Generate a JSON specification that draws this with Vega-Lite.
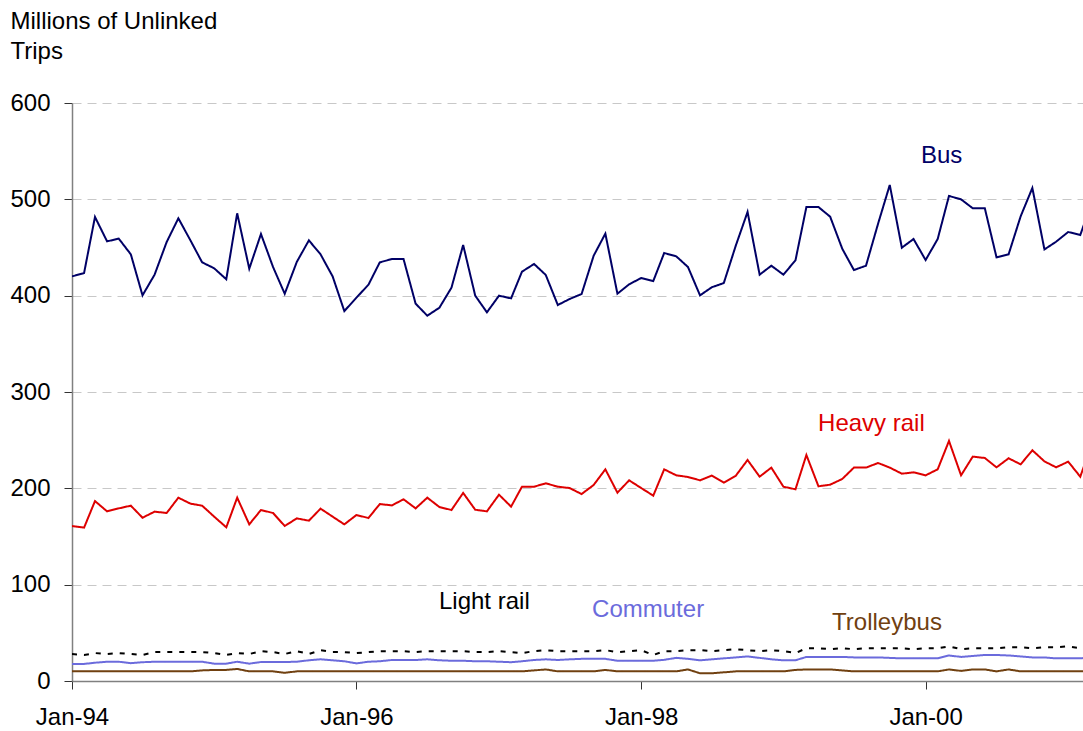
{
  "$schema": "https://vega.github.io/schema/vega-lite/v6.json",
  "width": 1011,
  "height": 578,
  "autosize": {"type": "none"},
  "padding": {"left": 72, "top": 103, "right": 0, "bottom": 50},
  "background": "white",
  "config": {"font": "Liberation Sans", "view": {"stroke": null}},
  "data": {"values": [
    {"date":"1994-01-01","Bus":420,"Heavy rail":160.9,"Light rail":28,"Commuter":17.7,"Trolleybus":10},
    {"date":"1994-02-01","Bus":423.5,"Heavy rail":159.2,"Light rail":27,"Commuter":17.7,"Trolleybus":10},
    {"date":"1994-03-01","Bus":481.7,"Heavy rail":186.8,"Light rail":29,"Commuter":19,"Trolleybus":10},
    {"date":"1994-04-01","Bus":456.4,"Heavy rail":176.1,"Light rail":28,"Commuter":20,"Trolleybus":10},
    {"date":"1994-05-01","Bus":459.2,"Heavy rail":179.2,"Light rail":29,"Commuter":20,"Trolleybus":10},
    {"date":"1994-06-01","Bus":442.9,"Heavy rail":182,"Light rail":28,"Commuter":18.5,"Trolleybus":10},
    {"date":"1994-07-01","Bus":400.3,"Heavy rail":169.5,"Light rail":27,"Commuter":19.5,"Trolleybus":10},
    {"date":"1994-08-01","Bus":421.8,"Heavy rail":175.8,"Light rail":30,"Commuter":20,"Trolleybus":10},
    {"date":"1994-09-01","Bus":455.7,"Heavy rail":174.4,"Light rail":30,"Commuter":20,"Trolleybus":10},
    {"date":"1994-10-01","Bus":480.3,"Heavy rail":190.3,"Light rail":30,"Commuter":20,"Trolleybus":10},
    {"date":"1994-11-01","Bus":457.4,"Heavy rail":184.1,"Light rail":30,"Commuter":20,"Trolleybus":10},
    {"date":"1994-12-01","Bus":434.6,"Heavy rail":182,"Light rail":30,"Commuter":20,"Trolleybus":11},
    {"date":"1995-01-01","Bus":428.4,"Heavy rail":170.6,"Light rail":29,"Commuter":18,"Trolleybus":11.5},
    {"date":"1995-02-01","Bus":417,"Heavy rail":159.5,"Light rail":27,"Commuter":18,"Trolleybus":11.5},
    {"date":"1995-03-01","Bus":485.5,"Heavy rail":190.3,"Light rail":29,"Commuter":20,"Trolleybus":12.5},
    {"date":"1995-04-01","Bus":428,"Heavy rail":162.6,"Light rail":28,"Commuter":18,"Trolleybus":10},
    {"date":"1995-05-01","Bus":464,"Heavy rail":177.5,"Light rail":31,"Commuter":19.7,"Trolleybus":10},
    {"date":"1995-06-01","Bus":429.8,"Heavy rail":174.4,"Light rail":30,"Commuter":19.7,"Trolleybus":10},
    {"date":"1995-07-01","Bus":402,"Heavy rail":160.9,"Light rail":28,"Commuter":19.7,"Trolleybus":8.5},
    {"date":"1995-08-01","Bus":435,"Heavy rail":168.8,"Light rail":31,"Commuter":20,"Trolleybus":10},
    {"date":"1995-09-01","Bus":457.4,"Heavy rail":166.4,"Light rail":28,"Commuter":21.5,"Trolleybus":10},
    {"date":"1995-10-01","Bus":442.9,"Heavy rail":178.9,"Light rail":32,"Commuter":22.5,"Trolleybus":10},
    {"date":"1995-11-01","Bus":420,"Heavy rail":170.6,"Light rail":30,"Commuter":21.5,"Trolleybus":10},
    {"date":"1995-12-01","Bus":384,"Heavy rail":162.6,"Light rail":30,"Commuter":20.5,"Trolleybus":10},
    {"date":"1996-01-01","Bus":397.9,"Heavy rail":172.3,"Light rail":29,"Commuter":18.3,"Trolleybus":10},
    {"date":"1996-02-01","Bus":411.4,"Heavy rail":169.2,"Light rail":30,"Commuter":20,"Trolleybus":10},
    {"date":"1996-03-01","Bus":434.6,"Heavy rail":183.7,"Light rail":31,"Commuter":20.5,"Trolleybus":10},
    {"date":"1996-04-01","Bus":438,"Heavy rail":182.3,"Light rail":31,"Commuter":21.8,"Trolleybus":10},
    {"date":"1996-05-01","Bus":438,"Heavy rail":188.6,"Light rail":31,"Commuter":21.8,"Trolleybus":10},
    {"date":"1996-06-01","Bus":391.7,"Heavy rail":179.2,"Light rail":30,"Commuter":21.8,"Trolleybus":10},
    {"date":"1996-07-01","Bus":379.2,"Heavy rail":190.3,"Light rail":31,"Commuter":22.5,"Trolleybus":10},
    {"date":"1996-08-01","Bus":387.5,"Heavy rail":180.6,"Light rail":31,"Commuter":21.5,"Trolleybus":10},
    {"date":"1996-09-01","Bus":408.3,"Heavy rail":177.5,"Light rail":31,"Commuter":21,"Trolleybus":10},
    {"date":"1996-10-01","Bus":452.6,"Heavy rail":195.2,"Light rail":31,"Commuter":21,"Trolleybus":10},
    {"date":"1996-11-01","Bus":400,"Heavy rail":177.8,"Light rail":30,"Commuter":20.5,"Trolleybus":10},
    {"date":"1996-12-01","Bus":382.7,"Heavy rail":176.1,"Light rail":30,"Commuter":20.5,"Trolleybus":10},
    {"date":"1997-01-01","Bus":400,"Heavy rail":193.4,"Light rail":31,"Commuter":20,"Trolleybus":10},
    {"date":"1997-02-01","Bus":397.2,"Heavy rail":181,"Light rail":30,"Commuter":19.5,"Trolleybus":10},
    {"date":"1997-03-01","Bus":424.9,"Heavy rail":201.7,"Light rail":29,"Commuter":20.5,"Trolleybus":10},
    {"date":"1997-04-01","Bus":432.9,"Heavy rail":201.7,"Light rail":31,"Commuter":21.8,"Trolleybus":11},
    {"date":"1997-05-01","Bus":421.5,"Heavy rail":205.2,"Light rail":32,"Commuter":22.5,"Trolleybus":12},
    {"date":"1997-06-01","Bus":390.3,"Heavy rail":201.7,"Light rail":31,"Commuter":21.8,"Trolleybus":10},
    {"date":"1997-07-01","Bus":396.5,"Heavy rail":200.3,"Light rail":31,"Commuter":22.5,"Trolleybus":10},
    {"date":"1997-08-01","Bus":401.7,"Heavy rail":194.1,"Light rail":31,"Commuter":23,"Trolleybus":10},
    {"date":"1997-09-01","Bus":441.5,"Heavy rail":203.5,"Light rail":31,"Commuter":23,"Trolleybus":10},
    {"date":"1997-10-01","Bus":464.4,"Heavy rail":219.7,"Light rail":32,"Commuter":23,"Trolleybus":11.5},
    {"date":"1997-11-01","Bus":402,"Heavy rail":195.5,"Light rail":30,"Commuter":21,"Trolleybus":10},
    {"date":"1997-12-01","Bus":411.8,"Heavy rail":208.3,"Light rail":31,"Commuter":21,"Trolleybus":10},
    {"date":"1998-01-01","Bus":418.3,"Heavy rail":200.3,"Light rail":32,"Commuter":21,"Trolleybus":10},
    {"date":"1998-02-01","Bus":415.2,"Heavy rail":192.4,"Light rail":27,"Commuter":21,"Trolleybus":10},
    {"date":"1998-03-01","Bus":444.3,"Heavy rail":219.7,"Light rail":31,"Commuter":22,"Trolleybus":10},
    {"date":"1998-04-01","Bus":440.8,"Heavy rail":213.5,"Light rail":31,"Commuter":24,"Trolleybus":10},
    {"date":"1998-05-01","Bus":429.8,"Heavy rail":211.8,"Light rail":32,"Commuter":23,"Trolleybus":12},
    {"date":"1998-06-01","Bus":400.3,"Heavy rail":208.3,"Light rail":32,"Commuter":21.5,"Trolleybus":8},
    {"date":"1998-07-01","Bus":408.7,"Heavy rail":213.2,"Light rail":31,"Commuter":22.5,"Trolleybus":8},
    {"date":"1998-08-01","Bus":413.1,"Heavy rail":205.9,"Light rail":32,"Commuter":23.5,"Trolleybus":9},
    {"date":"1998-09-01","Bus":452.2,"Heavy rail":213.2,"Light rail":33,"Commuter":24.5,"Trolleybus":10},
    {"date":"1998-10-01","Bus":486.9,"Heavy rail":229.4,"Light rail":32,"Commuter":25.5,"Trolleybus":10},
    {"date":"1998-11-01","Bus":421.8,"Heavy rail":212.1,"Light rail":31,"Commuter":24,"Trolleybus":10},
    {"date":"1998-12-01","Bus":431.1,"Heavy rail":221.5,"Light rail":32,"Commuter":22.5,"Trolleybus":10},
    {"date":"1999-01-01","Bus":421.8,"Heavy rail":201.7,"Light rail":31,"Commuter":21.5,"Trolleybus":10},
    {"date":"1999-02-01","Bus":436.7,"Heavy rail":199,"Light rail":29,"Commuter":21.5,"Trolleybus":11.5},
    {"date":"1999-03-01","Bus":492,"Heavy rail":234.6,"Light rail":34,"Commuter":25,"Trolleybus":12},
    {"date":"1999-04-01","Bus":492,"Heavy rail":202.1,"Light rail":34,"Commuter":25,"Trolleybus":12},
    {"date":"1999-05-01","Bus":482,"Heavy rail":203.8,"Light rail":33,"Commuter":25,"Trolleybus":12},
    {"date":"1999-06-01","Bus":448.8,"Heavy rail":209.7,"Light rail":34,"Commuter":25,"Trolleybus":11},
    {"date":"1999-07-01","Bus":426.6,"Heavy rail":221.5,"Light rail":33,"Commuter":24.5,"Trolleybus":10},
    {"date":"1999-08-01","Bus":431.1,"Heavy rail":221.5,"Light rail":34,"Commuter":24.5,"Trolleybus":10},
    {"date":"1999-09-01","Bus":474.7,"Heavy rail":226.3,"Light rail":34,"Commuter":24.5,"Trolleybus":10},
    {"date":"1999-10-01","Bus":514.9,"Heavy rail":221.5,"Light rail":34,"Commuter":24,"Trolleybus":10},
    {"date":"1999-11-01","Bus":449.8,"Heavy rail":215.2,"Light rail":34,"Commuter":23.5,"Trolleybus":10},
    {"date":"1999-12-01","Bus":458.8,"Heavy rail":216.6,"Light rail":33,"Commuter":23.5,"Trolleybus":10},
    {"date":"2000-01-01","Bus":437,"Heavy rail":213.5,"Light rail":34,"Commuter":23.5,"Trolleybus":10},
    {"date":"2000-02-01","Bus":458.8,"Heavy rail":219.7,"Light rail":34,"Commuter":23.5,"Trolleybus":10},
    {"date":"2000-03-01","Bus":503.5,"Heavy rail":249.2,"Light rail":36,"Commuter":26.5,"Trolleybus":12},
    {"date":"2000-04-01","Bus":500,"Heavy rail":213.5,"Light rail":33,"Commuter":25,"Trolleybus":10.5},
    {"date":"2000-05-01","Bus":490.7,"Heavy rail":232.9,"Light rail":34,"Commuter":26,"Trolleybus":12},
    {"date":"2000-06-01","Bus":490.7,"Heavy rail":231.5,"Light rail":34,"Commuter":27,"Trolleybus":12},
    {"date":"2000-07-01","Bus":439.8,"Heavy rail":221.8,"Light rail":34,"Commuter":27,"Trolleybus":10},
    {"date":"2000-08-01","Bus":442.9,"Heavy rail":231.2,"Light rail":35,"Commuter":26.5,"Trolleybus":12},
    {"date":"2000-09-01","Bus":482.4,"Heavy rail":224.9,"Light rail":35,"Commuter":25.5,"Trolleybus":10},
    {"date":"2000-10-01","Bus":511.8,"Heavy rail":239.5,"Light rail":34,"Commuter":24.5,"Trolleybus":10},
    {"date":"2000-11-01","Bus":448,"Heavy rail":228,"Light rail":35,"Commuter":24.5,"Trolleybus":10},
    {"date":"2000-12-01","Bus":456,"Heavy rail":221.8,"Light rail":35,"Commuter":23.5,"Trolleybus":10},
    {"date":"2001-01-01","Bus":466.1,"Heavy rail":227.7,"Light rail":36,"Commuter":23.5,"Trolleybus":10},
    {"date":"2001-02-01","Bus":463,"Heavy rail":212.1,"Light rail":34,"Commuter":23.5,"Trolleybus":10},
    {"date":"2001-03-01","Bus":495,"Heavy rail":244,"Light rail":35,"Commuter":24.5,"Trolleybus":10}
  ]},
  "encoding": {
    "x": {
      "field": "date", "type": "temporal",
      "scale": {"type": "utc", "domain": [{"year": 1994, "month": 1, "date": 1, "utc": true}, {"year": 2001, "month": 2, "date": 8, "utc": true}]},
      "axis": {
        "values": [{"year": 1994, "month": 1, "date": 1, "utc": true}, {"year": 1996, "month": 1, "date": 1, "utc": true}, {"year": 1998, "month": 1, "date": 1, "utc": true}, {"year": 2000, "month": 1, "date": 1, "utc": true}],
        "labelExpr": "utcFormat(datum.value, '%b-%y')",
        "title": null, "grid": false,
        "labelFontSize": 24, "labelColor": "#000000", "labelPadding": 16, "labelFlush": false, "labelOverlap": false,
        "tickSize": 8, "tickColor": "#333333", "tickWidth": 1,
        "domainColor": "#808080", "domainWidth": 1.5
      }
    },
    "y": {
      "field": "value", "type": "quantitative",
      "scale": {"domain": [0, 600], "nice": false},
      "axis": {
        "values": [0, 100, 200, 300, 400, 500, 600],
        "title": ["Millions of Unlinked", "Trips"],
        "titleAngle": 0, "titleAlign": "left", "titleBaseline": "alphabetic",
        "titleX": -62, "titleY": -75, "titleFontSize": 24, "titleFontWeight": "normal", "titleLineHeight": 30, "titleColor": "#000000",
        "labelFontSize": 24, "labelColor": "#000000", "labelPadding": 14,
        "tickSize": 8, "tickColor": "#333333", "tickWidth": 1,
        "domainColor": "#808080", "domainWidth": 1.5,
        "grid": true, "gridDash": [9, 6], "gridColor": "#c8c8c8", "gridWidth": 1
      }
    }
  },
  "layer": [
    {
      "transform": [{"fold": ["Bus", "Heavy rail", "Light rail", "Commuter", "Trolleybus"], "as": ["series", "value"]}],
      "mark": {"type": "line", "clip": true, "strokeWidth": 2},
      "encoding": {
        "color": {"field": "series", "type": "nominal", "legend": null,
          "scale": {"domain": ["Bus", "Heavy rail", "Light rail", "Commuter", "Trolleybus"], "range": ["#000066", "#dd0000", "#000000", "#6b6bdc", "#704010"]}},
        "strokeDash": {"field": "series", "type": "nominal", "legend": null,
          "scale": {"domain": ["Bus", "Heavy rail", "Light rail", "Commuter", "Trolleybus"], "range": [[1, 0], [1, 0], [5, 7], [1, 0], [1, 0]]}},
        "detail": {"field": "series"}
      }
    },
    {
      "data": {"values": [{"date": "1995-01-01"}, {"date": "1997-01-01"}, {"date": "1999-01-01"}, {"date": "2001-01-01"}]},
      "mark": {"type": "rule", "color": "#333333", "strokeWidth": 1},
      "encoding": {"y": {"datum": 0}, "y2": {"datum": 6}}
    },
    {
      "data": {"values": [{"date": "1994-01-01"}, {"date": "1996-01-01"}, {"date": "1998-01-01"}, {"date": "2000-01-01"}]},
      "mark": {"type": "rule", "color": "#333333", "strokeWidth": 1},
      "encoding": {"y": {"datum": 0}, "y2": {"datum": 9}}
    },
    {
      "data": {"values": [
        {"date": "1999-12-20", "value": 538, "series": "Bus", "label": "Bus"},
        {"date": "1999-03-31", "value": 260, "series": "Heavy rail", "label": "Heavy rail"},
        {"date": "1996-07-31", "value": 75, "series": "Light rail", "label": "Light rail"},
        {"date": "1997-08-28", "value": 66.5, "series": "Commuter", "label": "Commuter"},
        {"date": "1999-05-06", "value": 53, "series": "Trolleybus", "label": "Trolleybus"}
      ]},
      "mark": {"type": "text", "align": "left", "baseline": "alphabetic", "fontSize": 24},
      "encoding": {
        "text": {"field": "label"},
        "color": {"field": "series", "type": "nominal", "legend": null}
      }
    }
  ]
}
